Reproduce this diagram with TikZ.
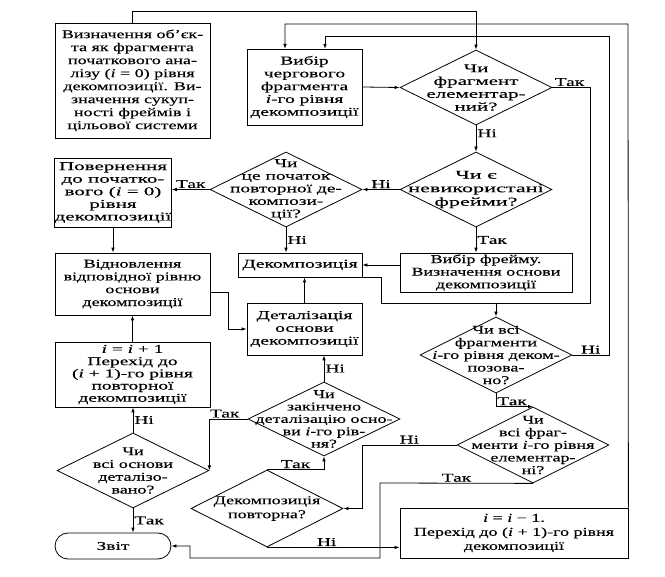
\documentclass[tikz,border=0pt]{standalone}
\usepackage{fontspec}
\setmainfont{Liberation Serif}[FakeStretch=1.5]
\newfontfamily\fbase{Liberation Serif}[FakeStretch=1.5,FakeBold=0.3]
\newfontfamily\fwide{Liberation Serif}[FakeStretch=1.62,FakeBold=0.3]
\newfontfamily\fwider{Liberation Serif}[FakeStretch=1.75,FakeBold=0.3]
\newfontfamily\fwidest{Liberation Serif}[FakeStretch=1.85,FakeBold=0.3]
\newcommand\vi{\textit{i}}
\usetikzlibrary{shapes.geometric,arrows.meta}
\begin{document}
\begin{tikzpicture}[x=1pt,y=-1pt,
  font=\fontsize{12}{12.8}\fbase,
  box/.style={draw,line width=0.8pt,align=center,inner sep=0pt},
  dia/.style={draw,diamond,line width=0.8pt,inner sep=0pt},
  dtext/.style={align=center,inner sep=0pt},
  ln/.style={line width=0.8pt},
  arr/.style={ln,-{Latex[length=5pt,width=3.5pt]}},
  lab/.style={inner sep=1pt,font=\fontsize{12}{12.8}\fwide}]
\useasboundingbox (0,0) rectangle (665,577);

% boxes
\node[box,minimum width=155,minimum height=115,font=\fontsize{12}{13}\fbase] (A) at (132.5,80.5)
  {Визначення об’єк-\\та як фрагмента\\початкового ана-\\лізу (\vi{} = 0) рівня\\декомпозиції. Ви-\\значення сукуп-\\ності фреймів і\\цільової системи};
\node[box,minimum width=115,minimum height=76,font=\fontsize{12}{12.8}\fwide] (B) at (304.5,87)
  {Вибір\\чергового\\фрагмента\\\vi-го рівня\\декомпозиції};
\node[box,minimum width=116,minimum height=69,font=\fontsize{12}{12.6}\fwider] (E) at (113,192.5)
  {Повернення\\до початко-\\вого (\vi{} = 0)\\рівня\\декомпозиції};
\node[box,minimum width=172,minimum height=39,font=\fontsize{12}{12.6}\fbase] (C) at (486,272.5)
  {Вибір фрейму.\\Визначення основи\\декомпозиції};
\node[box,minimum width=124,minimum height=24,font=\fontsize{12}{12.8}\fwide] (G) at (300,265) {Декомпозиція};
\node[box,minimum width=155,minimum height=62,font=\fontsize{12}{12.8}\fbase] (F) at (132.5,284)
  {Відновлення\\відповідної рівню\\основи\\декомпозиції};
\node[box,minimum width=115,minimum height=52,font=\fontsize{12}{12.8}\fwide] (H) at (304.5,329)
  {Деталізація\\основи\\декомпозиції};
\node[box,minimum width=155,minimum height=65] (I) at (132.5,374.5) {};
\node[dtext,font=\fontsize{12}{12.2}\fwide] (It) at (I)
  {\vi{} = \vi{} + 1\\Перехід до\\(\vi{} + 1)-го рівня\\повторної\\декомпозиції};
\node[box,minimum width=228,minimum height=50] (J) at (514,533) {};
\node[dtext,font=\fontsize{12}{14}\fbase] (Jt) at (J)
  {\vi{} = \vi{} − 1.\\Перехід до (\vi{} + 1)-го рівня\\декомпозиції};
\node[box,rounded corners=13pt,minimum width=116,minimum height=26,font=\fontsize{12}{12.8}\fwide] (Z) at (113,546) {Звіт};

% diamonds
\node[dia,minimum width=152,minimum height=75] (D1) at (476,87.5) {};
\node[dtext,font=\fontsize{12}{12.8}\fwider] (D1t) at (D1) {Чи\\фрагмент\\елементар-\\ний?};
\node[dia,minimum width=152,minimum height=75] (D2) at (476,189.5) {};
\node[dtext,font=\fontsize{12}{13.5}\fwidest] (D2t) at (D2) {Чи є\\невикористані\\фрейми?};
\node[dia,minimum width=152,minimum height=75] (D3) at (286,189.5) {};
\node[dtext,font=\fontsize{12}{12.6}\fwide] (D3t) at (D3) {Чи\\це початок\\повторної де-\\компози-\\ції?};
\node[dia,minimum width=152,minimum height=76] (D4) at (496,355) {};
\node[dtext,font=\fontsize{12}{12.6}\fbase] (D4t) at (D4) {Чи всі\\фрагменти\\\vi-го рівня деком-\\позова-\\но?};
\node[dia,minimum width=152,minimum height=74] (D5) at (324,419) {};
\node[dtext,font=\fontsize{12}{12.4}\fbase] (D5t) at (D5) {Чи\\закінчено\\деталізацію осно-\\ви \vi-го рів-\\ня?};
\node[dia,minimum width=152,minimum height=76] (D8) at (533,445) {};
\node[dtext,font=\fontsize{12}{12.6}\fbase] (D8t) at (D8) {Чи\\всі фраг-\\менти \vi-го рівня\\елементар-\\ні?};
\node[dia,minimum width=152,minimum height=75] (D6) at (133,470.5) {};
\node[dtext,font=\fontsize{12}{12.8}\fbase] (D6t) at (D6) {Чи\\всі основи\\деталізо-\\вано?};
\node[dia,minimum width=152,minimum height=77] (D7) at (267,508.5) {};
\node[dtext,font=\fontsize{12}{14}\fbase] (D7t) at (D7) {Декомпозиція\\повторна?};

% helper coordinates
\coordinate (m4) at (496,303);

% connectors
\draw[arr] (A.north) -- ++(0,-11) -| (D1.north);
\draw[arr] (B.east) -- (D1.west);
\draw[arr] (D1.south) -- (D2.north) node[lab,pos=0.3,right] {Ні};
\draw[ln] (D1.east) -- ++(38,0) node[lab,pos=0.45,above] {Так} |- (m4);
\draw[ln] (G.south east) -- ++(19,0) |- (m4);
\draw[arr] (m4) -- (D4.north);
\draw[arr] (D2.west) -- (D3.east) node[lab,midway,above] {Ні};
\draw[arr] (D2.south) -- (D2.south |- C.north) node[lab,midway,right] {Так};
\draw[arr] (C.west |- G.east) -- (G.east);
\draw[arr] (D3.west) -- (D3.west -| E.east) node[lab,midway,above] {Так};
\draw[arr] (D3.south) -- (D3.south |- G.north) node[lab,midway,right] {Ні};
\draw[arr] (E.south) -- (E.south |- F.north);
\draw[arr] ([yshift=-8pt]F.east) -- ++(18,0) |- (H.west);
\draw[arr] (H.north) -- (H.north |- G.south);
\draw[arr] (D5.north) -- (D5.north |- H.south) node[lab,midway,right] {Ні};
\draw[arr] (D5.west) -| node[lab,pos=0.3,above] {Так} (D6.east);
\draw[arr] (D6.north) -- (D6.north |- I.south) node[lab,midway,right] {Ні};
\draw[arr] (I.north) -- (I.north |- F.south);
\draw[arr] (D6.south) -- (D6.south |- Z.north) node[lab,midway,right] {Так};
\draw[arr] (D7.north) -| node[lab,pos=0.25,above] {Так} (D5.south);
\draw[arr] (D7.south) -- (D7.south -| J.west) node[lab,pos=0.45,above] {Ні};
\draw[arr] (D8.west) -- (362,445) node[lab,midway,above] {Ні} |- (D7.east);
\draw[arr] (D8.south) -- (380,483) node[lab,pos=0.5,above] {Так} -- (380,558) -- (190,558) |- (Z.east);
\draw[arr] (D4.east) -- (609,355) node[lab,midway,above] {Ні} -- (609,36) -- (325,36) -- (325,49);
\draw[arr] (D4.south) |- (D8.north) node[lab,pos=0.3,right] {Так};
\draw[arr] (J.north east) -- (628,24) -- (285,24) -- (285,49);
\end{tikzpicture}
\end{document}
